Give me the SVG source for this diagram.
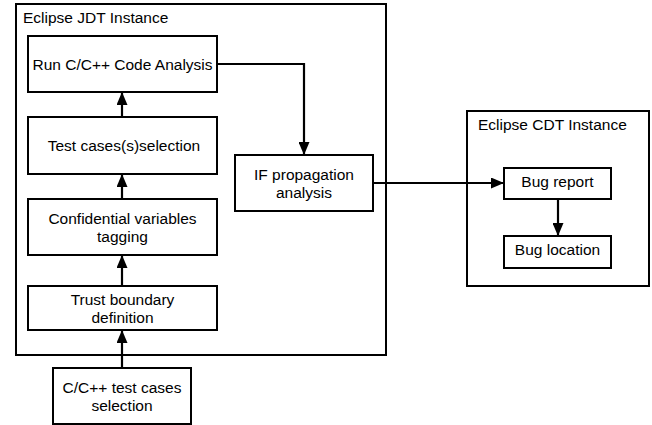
<svg xmlns="http://www.w3.org/2000/svg" width="652" height="425" viewBox="0 0 652 425">
<style>
rect{fill:#fff;stroke:#000;stroke-width:2}
text{font-family:"Liberation Sans",Arial,sans-serif;font-size:15.5px;fill:#000}
.c{text-anchor:middle}
.e{fill:none;stroke:#000;stroke-width:2.2}
</style>
<defs>
<marker id="a" markerWidth="13" markerHeight="11" refX="12" refY="5.5" orient="auto" markerUnits="userSpaceOnUse" viewBox="0 0 13 11">
<path d="M0,0 L13,5.5 L0,11 Z" fill="#000"/>
</marker>
</defs>
<g id="jdt"><rect x="16" y="4" width="370" height="351"/><text x="23" y="23">Eclipse JDT Instance</text></g>
<g id="cdt"><rect x="467" y="111" width="182" height="175"/><text x="478" y="130">Eclipse CDT Instance</text></g>
<g id="run"><rect x="28" y="36" width="189" height="56"/><text class="c" x="122.5" y="70">Run C/C++ Code Analysis</text></g>
<g id="test"><rect x="28" y="117" width="189" height="57"/><text class="c" x="124" y="151">Test cases(s)selection</text></g>
<g id="conf"><rect x="28" y="199" width="189" height="56"/><text class="c" x="122.5" y="224">Confidential variables</text><text class="c" x="122.5" y="242">tagging</text></g>
<g id="trust"><rect x="28" y="286" width="189" height="44"/><text class="c" x="122.5" y="305">Trust boundary</text><text class="c" x="122.5" y="323">definition</text></g>
<g id="cases"><rect x="53" y="368" width="138" height="56"/><text class="c" x="122" y="393">C/C++ test cases</text><text class="c" x="122" y="411">selection</text></g>
<g id="if"><rect x="235" y="155" width="138" height="56"/><text class="c" x="304" y="180">IF propagation</text><text class="c" x="304" y="198">analysis</text></g>
<g id="report"><rect x="504" y="168" width="107" height="31"/><text class="c" x="557.5" y="187">Bug report</text></g>
<g id="loc"><rect x="504" y="236" width="107" height="32"/><text class="c" x="557.5" y="255">Bug location</text></g>
<g id="connectors">
<path class="e" d="M122,368 V331" marker-end="url(#a)"/>
<path class="e" d="M122,286 V256" marker-end="url(#a)"/>
<path class="e" d="M122,199 V175" marker-end="url(#a)"/>
<path class="e" d="M122,117 V93" marker-end="url(#a)"/>
<path class="e" d="M217,64 H304 V154" marker-end="url(#a)"/>
<path class="e" d="M373,183 H503" marker-end="url(#a)"/>
<path class="e" d="M558,199 V235" marker-end="url(#a)"/>
</g>
</svg>
